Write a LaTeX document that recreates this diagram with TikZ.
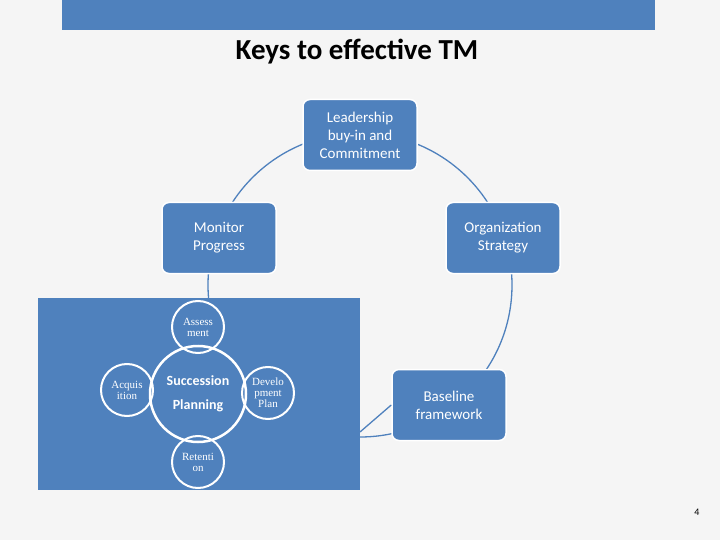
\documentclass[tikz,border=0pt]{standalone}
\usepackage{fontspec}
\setmainfont{Carlito}
\newfontfamily\serifx{Liberation Serif}
\definecolor{ob}{HTML}{4F81BD}
\begin{document}
\begin{tikzpicture}[x=1pt,y=-1pt,
 box/.style={draw=white,line width=1.5pt,fill=ob,rounded corners=7pt,minimum width=114pt,minimum height=71pt,text=white,font=\fontsize{15}{18}\selectfont,align=center},
 sm/.style={circle,draw=white,line width=2pt,minimum size=52pt,inner sep=0pt,text=white,font=\serifx\fontsize{11}{11}\selectfont,align=center},
 conn/.style={draw=ob,line width=1.3pt}]
\fill[gray!8] (0,0) rectangle (720,540);
\useasboundingbox (0,0) rectangle (720,540);
\fill[ob] (62,0) rectangle (655,30);
\node[font=\bfseries\fontsize{29}{32}\selectfont] (title) at (357,52) {Keys to effective TM};
\draw[conn] (360,285) circle (152);
\fill[ob] (38,298) rectangle (360,490);
\coordinate (rr) at (360,432);
\node[box] (lead) at (360,135) {Leadership\\buy-in and\\Commitment};
\node[box] (mon) at (219,238) {Monitor\\Progress};
\node[box] (org) at (503,238) {Organization\\Strategy};
\node[box] (base) at (449,405) {Baseline\\framework};
\draw[conn] (rr) -- (base.west);
\node[circle,draw=white,line width=2.5pt,minimum size=96pt,text=white,font=\bfseries\fontsize{14}{24}\selectfont,align=center] (sp) at (198,394) {Succession\\Planning};
\node[sm] (as) at (198,327) {Assess\\ment};
\node[sm] (ac) at (127,390) {Acquis\\ition};
\node[sm] (dv) at (268,393) {Develo\\pment\\Plan};
\node[sm] (rt) at (198,462) {Retenti\\on};
\node[font=\fontsize{10}{10}\selectfont] (pg) at (697,512) {4};
\end{tikzpicture}
\end{document}
